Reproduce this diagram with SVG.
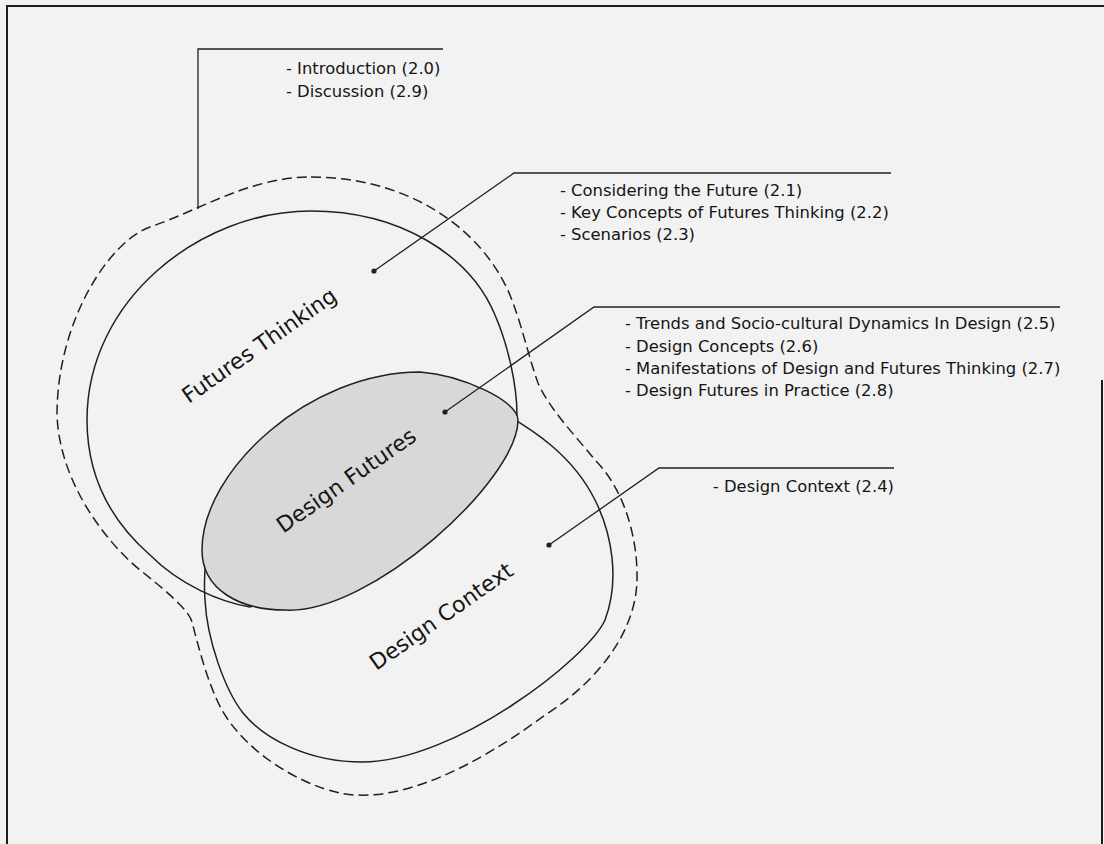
<svg xmlns="http://www.w3.org/2000/svg" width="1104" height="844" viewBox="0 0 1104 844">
  <style>
    .frame { fill: none; stroke: #1e1e1e; stroke-width: 2; }
    .blob { fill: none; stroke: #202020; stroke-width: 1.5; }
    .core { fill: #d8d8d8; stroke: #202020; stroke-width: 1.5; }
    .outer { fill: none; stroke: #202020; stroke-width: 1.5; stroke-dasharray: 10 5; }
    .leader { fill: none; stroke: #202020; stroke-width: 1.3; }
    .dot { fill: #202020; }
    .list { font-family: "DejaVu Sans", "Liberation Sans", sans-serif; font-size: 16.4px; fill: #151515; }
    .label { font-family: "DejaVu Sans", "Liberation Sans", sans-serif; font-size: 22px; fill: #151515; text-anchor: middle; }
  </style>

  <!-- page background and frame -->
  <rect x="0" y="0" width="1104" height="844" fill="#f2f2f2"/>
  <g id="frame">
    <path class="frame" d="M7,844 V6 H1104"/>
    <path class="frame" d="M1102,380 V844"/>
  </g>

  <!-- dashed boundary around the whole chapter -->
  <g id="chapter-boundary">
    <path class="outer" d="M311,177 C405,177 480,225 510,295 C522,325 528,355 538,383 C550,410 575,435 595,460 C625,490 638,540 637,580 C636,630 600,680 545,715 C495,752 420,798 357,795 C320,795 250,760 222,710 C208,685 198,645 192,622 C189,610 165,590 140,570 C115,550 60,490 57,415 C57,320 110,241 150,227 C200,210 250,177 311,177 Z"/>
  </g>

  <!-- Futures Thinking region -->
  <g id="futures-thinking">
    <path class="blob" d="M311,211 C400,211 470,255 495,315 C508,345 517,385 517,415 L480,480 L300,590 L250,607 C220,602 180,585 150,555 C110,520 87,475 87,420 C87,300 200,211 311,211 Z"/>
    <text class="label" transform="translate(259,345) rotate(-35)" y="8">Futures Thinking</text>
  </g>

  <!-- Design Context region -->
  <g id="design-context">
    <path class="blob" d="M475,398 C540,430 575,460 595,500 C612,534 620,580 605,620 C588,658 455,762 362,762 C310,762 265,740 243,713 C225,690 207,640 205,600 C204,585 204,575 206,560 L260,540 L400,470 Z"/>
    <text class="label" transform="translate(441,616) rotate(-35)" y="8">Design Context</text>
  </g>

  <!-- Design Futures: shaded overlap -->
  <g id="design-futures">
    <path class="core" d="M420,372 C460,375 518,400 518,420 C518,480 370,615 285,610 C240,610 202,590 202,550 C202,470 310,372 420,372 Z"/>
    <text class="label" transform="translate(346,480) rotate(-35)" y="8">Design Futures</text>
  </g>

  <!-- leader lines from regions to section lists -->
  <g id="connectors">
    <polyline class="leader" points="198,209 198,49 443,49"/>
    <polyline class="leader" points="374,271 514,173 891,173"/>
    <circle class="dot" cx="374" cy="271" r="2.6"/>
    <polyline class="leader" points="445,412 594,307 1060,307"/>
    <circle class="dot" cx="445" cy="412" r="2.6"/>
    <polyline class="leader" points="549,545 659,468 894,468"/>
    <circle class="dot" cx="549" cy="545" r="2.6"/>
  </g>

  <!-- section lists -->
  <g id="list-general">
    <text class="list" x="286" y="74">- Introduction (2.0)</text>
    <text class="list" x="286" y="97">- Discussion (2.9)</text>
  </g>
  <g id="list-futures-thinking">
    <text class="list" x="560" y="196">- Considering the Future (2.1)</text>
    <text class="list" x="560" y="218">- Key Concepts of Futures Thinking (2.2)</text>
    <text class="list" x="560" y="240">- Scenarios (2.3)</text>
  </g>
  <g id="list-design-futures">
    <text class="list" x="625" y="329">- Trends and Socio-cultural Dynamics In Design (2.5)</text>
    <text class="list" x="625" y="351.5">- Design Concepts (2.6)</text>
    <text class="list" x="625" y="374">- Manifestations of Design and Futures Thinking (2.7)</text>
    <text class="list" x="625" y="396">- Design Futures in Practice (2.8)</text>
  </g>
  <g id="list-design-context">
    <text class="list" x="894" y="492" text-anchor="end">- Design Context (2.4)</text>
  </g>
</svg>
